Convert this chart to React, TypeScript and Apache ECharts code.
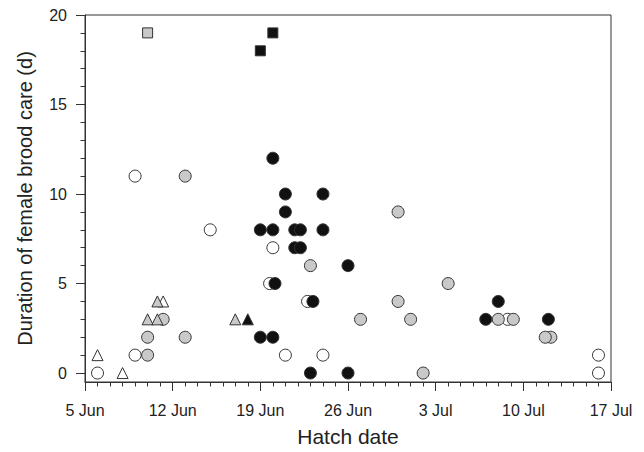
import React, { useEffect, useRef } from "react";
import * as echarts from "echarts";

// x values: days after 5 Jun (small fractions = offsets used in the original for overlapping points)
const xTickLabels = ["5 Jun", "12 Jun", "19 Jun", "26 Jun", "3 Jul", "10 Jul", "17 Jul"];
const yTickValues = [0, 5, 10, 15, 20];
const yMinorTickValues = [1, 2, 3, 4, 6, 7, 8, 9, 11, 12, 13, 14, 16, 17, 18, 19];

const openCircles = [
  [1, 0], [4, 11], [4, 1], [10, 8], [15, 7], [14.74, 5], [17.77, 4], [16, 1], [19, 1],
  [33.75, 3], [41, 1], [41, 0],
];
const grayCircles = [
  [5, 1], [5, 2], [6.24, 3], [8, 11], [8, 2], [18, 6], [25, 9], [25, 4], [22, 3], [26, 3],
  [27, 0], [29, 5], [33, 3], [34.2, 3], [37.2, 2], [36.75, 2],
];
const blackCircles = [
  [14, 8], [14, 2], [15, 12], [16, 10], [19, 10], [16, 9], [15, 8], [16.75, 8], [17.2, 8],
  [19, 8], [16.75, 7], [17.2, 7], [21, 6], [15.17, 5], [18.2, 4], [15, 2], [18, 0], [21, 0],
  [32, 3], [33, 4], [37, 3],
];
const openTriangles = [[1, 1], [3, 0], [6.24, 4]];
const grayTriangles = [[5, 3], [5.78, 4], [5.78, 3], [12, 3]];
const blackTriangles = [[13, 3]];
const graySquares = [[5, 19]];
const blackSquares = [[14, 18], [15, 19]];

const FONT = "'Liberation Sans', Arial, Helvetica, sans-serif";
const INK = "#222";
const EDGE = "#333";
const WHITE = "#ffffff";
const GRAY = "#c9c9c9";
const BLACK = "#111111";

function mk(name: string, data: number[][], symbol: string, size: number, fill: string) {
  return {
    name,
    type: "scatter",
    data,
    symbol,
    symbolSize: size,
    clip: false,
    itemStyle: { color: fill, borderColor: EDGE, borderWidth: 1, opacity: 1 },
    emphasis: { disabled: true },
  };
}

export default function App() {
  const ref = useRef<HTMLDivElement>(null);
  useEffect(() => {
    if (!ref.current) return;
    const chart = echarts.init(ref.current, null, { renderer: "svg" });
    chart.setOption({
      animation: false,
      backgroundColor: "#ffffff",
      textStyle: { fontFamily: FONT },
      grid: {
        left: 85,
        right: 33,
        top: 15,
        bottom: 67,
        show: true,
        borderColor: EDGE,
        borderWidth: 1,
        backgroundColor: "transparent",
      },
      xAxis: {
        type: "value",
        min: 0,
        max: 42,
        interval: 7,
        name: "Hatch date",
        nameLocation: "middle",
        nameGap: 44,
        nameTextStyle: { fontSize: 21, color: INK, fontFamily: FONT },
        axisLine: { show: true, onZero: false, lineStyle: { color: EDGE, width: 1 } },
        axisTick: { show: true, length: 9, lineStyle: { color: EDGE } },
        minorTick: { show: true, splitNumber: 7, length: 4.5, lineStyle: { color: EDGE } },
        axisLabel: {
          margin: 20,
          fontSize: 16,
          color: INK,
          fontFamily: FONT,
          formatter: (v: number) => xTickLabels[Math.round(v / 7)] ?? "",
        },
        splitLine: { show: false },
      },
      yAxis: [
        {
          type: "value",
          min: -0.5,
          max: 20,
          name: "Duration of female brood care (d)",
          nameLocation: "middle",
          nameGap: 50,
          nameTextStyle: { fontSize: 20, color: INK, fontFamily: FONT },
          axisLine: { show: true, lineStyle: { color: EDGE, width: 1 } },
          axisTick: { show: true, length: 9, customValues: yTickValues, lineStyle: { color: EDGE } },
          axisLabel: {
            customValues: yTickValues,
            margin: 18,
            fontSize: 16,
            color: INK,
            fontFamily: FONT,
          },
          splitLine: { show: false },
        },
        {
          type: "value",
          min: -0.5,
          max: 20,
          position: "left",
          axisLine: { show: false },
          axisTick: { show: true, length: 4.5, customValues: yMinorTickValues, lineStyle: { color: EDGE } },
          axisLabel: { show: false },
          splitLine: { show: false },
        },
      ],
      series: [
        mk("open circle", openCircles, "circle", 12, WHITE),
        mk("gray circle", grayCircles, "circle", 12, GRAY),
        mk("black circle", blackCircles, "circle", 12, BLACK),
        mk("open triangle", openTriangles, "triangle", 11, WHITE),
        mk("gray triangle", grayTriangles, "triangle", 11, GRAY),
        mk("black triangle", blackTriangles, "triangle", 11, BLACK),
        mk("gray square", graySquares, "rect", 10, GRAY),
        mk("black square", blackSquares, "rect", 10, BLACK),
      ],
    });
    return () => chart.dispose();
  }, []);
  return (
    <div
      ref={ref}
      style={{ position: "fixed", left: 0, top: 0, width: 644, height: 452, background: "#fff" }}
    />
  );
}
